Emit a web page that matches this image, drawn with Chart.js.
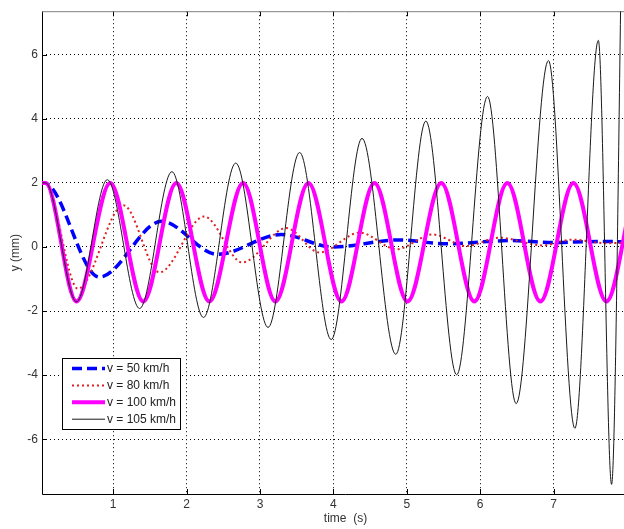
<!DOCTYPE html>
<html>
<head>
<meta charset="utf-8">
<script src="https://cdn.jsdelivr.net/npm/chart.js@4.4.1/dist/chart.umd.min.js"></script>
<style>
    html, body { margin: 0; padding: 0; background: #fff; overflow: hidden; }
    #wrap { position: relative; width: 652px; height: 529px; }
</style>
</head>
<body>
<div id="wrap"><canvas id="grafico-resposta"></canvas></div>
<script>
// Valores (patamar inicial, picos e vales de cada curva)
const t50 = [0, 0.06, 0.81, 1.66, 2.42, 3.29, 3.99, 4.9, 5.55, 6.4, 7.0, 7.6, 8.4]
const y50 = [2.0, 2.0, -0.94, 0.8, -0.23, 0.39, 0.0, 0.22, 0.1, 0.2, 0.14, 0.17, 0.15]

const t80 = [0, 0.07, 0.52, 1.14, 1.63, 2.24, 2.76, 3.36, 3.81, 4.36, 4.86, 5.35, 5.81, 6.26, 6.85, 7.26, 7.7, 8.4]
const y80 = [2.0, 2.0, -1.3, 1.3, -0.79, 0.95, -0.48, 0.59, -0.17, 0.45, -0.07, 0.39, 0.03, 0.29, 0.05, 0.23, 0.12, 0.17]

const t100 = [0, 0.08, 0.5, 0.96, 1.41, 1.86, 2.31, 2.77, 3.21, 3.66, 4.11, 4.56, 5.01, 5.47, 5.92, 6.37, 6.82, 7.27, 7.72, 8.17, 8.62]
const y100 = [2.0, 2.0, -1.7, 2.0, -1.7, 2.0, -1.7, 2.0, -1.7, 2.0, -1.7, 2.0, -1.7, 2.0, -1.7, 2.0, -1.7, 2.0, -1.7, 2.0, -1.7]

const t105 = [0, 0.08, 0.5, 0.92, 1.36, 1.8, 2.23, 2.67, 3.11, 3.54, 3.97, 4.39, 4.85, 5.26, 5.68, 6.1, 6.49, 6.93, 7.29, 7.61, 7.79, 7.95]
const y105 = [2.0, 2.0, -1.71, 2.1, -1.92, 2.35, -2.2, 2.62, -2.51, 2.95, -2.89, 3.39, -3.35, 3.93, -3.99, 4.7, -4.89, 5.82, -5.66, 6.45, -7.41, 13]

const ticksX = [1, 2, 3, 4, 5, 6, 7, 8]
const ticksY = [-6, -4, -2, 0, 2, 4, 6]
const legendas = ["v = 50 km/h", "v = 80 km/h", "v = 100 km/h", "v = 105 km/h"]

const fonte = "'Liberation Sans', Arial, sans-serif"

function pontos(t, y) {
    return t.map((x, i) => ({ x: x, y: y[i] }))
}

// Moldura, marcas de escala e legenda no estilo do MATLAB
const moldura = {
    id: "moldura",
    beforeDatasetsDraw(chart) {
        const { ctx, chartArea: a, scales: { x, y } } = chart
        ctx.save()
        ctx.lineWidth = 1
        ctx.strokeStyle = "#000"
        ctx.beginPath()
        ticksX.forEach(v => {
            const px = Math.round(x.getPixelForValue(v)) + 0.5
            ctx.moveTo(px, a.bottom)
            ctx.lineTo(px, a.bottom - 5)
            ctx.moveTo(px, a.top)
            ctx.lineTo(px, a.top + 5)
        })
        ticksY.forEach(v => {
            const py = Math.round(y.getPixelForValue(v)) + 0.5
            ctx.moveTo(a.left, py)
            ctx.lineTo(a.left + 5, py)
        })
        ctx.stroke()

        ctx.beginPath()
        ctx.moveTo(a.left + 0.5, a.top)
        ctx.lineTo(a.left + 0.5, a.bottom + 0.5)
        ctx.lineTo(a.right, a.bottom + 0.5)
        ctx.stroke()

        ctx.strokeStyle = "#808080"
        ctx.beginPath()
        ctx.moveTo(a.left, a.top + 0.5)
        ctx.lineTo(a.right, a.top + 0.5)
        ctx.stroke()
        ctx.restore()
    },
    afterDatasetsDraw(chart) {
        const { ctx, chartArea: a } = chart
        const x0 = a.left + 20
        const y0 = a.bottom - 136
        ctx.save()
        ctx.fillStyle = "#fff"
        ctx.fillRect(x0, y0, 118, 71)
        ctx.strokeStyle = "#000"
        ctx.lineWidth = 1
        ctx.strokeRect(x0 + 0.5, y0 + 0.5, 118, 71)

        chart.data.datasets.forEach((ds, i) => {
            const ly = y0 + 10.5 + i * 16.9
            ctx.strokeStyle = ds.borderColor
            ctx.lineWidth = ds.borderWidth
            ctx.setLineDash(ds.borderDash || [])
            ctx.beginPath()
            ctx.moveTo(x0 + 10, ly)
            ctx.lineTo(x0 + 43, ly)
            ctx.stroke()
            ctx.setLineDash([])
            ctx.fillStyle = "#222"
            ctx.font = "12px " + fonte
            ctx.textAlign = "left"
            ctx.textBaseline = "middle"
            ctx.fillText(legendas[i], x0 + 45, ly)
        })
        ctx.restore()
    }
}

let myChartResposta = new Chart(
    document.getElementById("grafico-resposta"),
    {
        type: "line",
        data: {
            datasets: [
                {
                    label: legendas[0],
                    data: pontos(t50, y50),
                    borderColor: "#0000ff",
                    borderWidth: 3.5,
                    borderDash: [10, 5],
                    order: 3
                },
                {
                    label: legendas[1],
                    data: pontos(t80, y80),
                    borderColor: "#e02020",
                    borderWidth: 2,
                    borderDash: [2, 3],
                    order: 2
                },
                {
                    label: legendas[2],
                    data: pontos(t100, y100),
                    borderColor: "#ff00ff",
                    borderWidth: 4,
                    order: 1
                },
                {
                    label: legendas[3],
                    data: pontos(t105, y105),
                    borderColor: "#1a1a1a",
                    borderWidth: 1,
                    order: 0
                }
            ]
        },
        options: {
            responsive: true,
            maintainAspectRatio: false,
            animation: false,
            layout: { padding: { top: 5, right: 3, left: 0, bottom: 0 } },
            elements: {
                point: { radius: 0 },
                line: { cubicInterpolationMode: "monotone", fill: false }
            },
            plugins: {
                legend: { display: false },
                tooltip: { enabled: false }
            },
            scales: {
                x: {
                    type: "linear",
                    min: 0.03,
                    max: 8.3,
                    afterBuildTicks: s => { s.ticks = ticksX.map(v => ({ value: v })) },
                    afterFit: s => { s.height = 35 },
                    grid: { color: "#000", lineWidth: 1, drawTicks: false },
                    border: { display: false, dash: [1, 3] },
                    ticks: { color: "#333", font: { size: 12, family: fonte }, padding: 3, maxRotation: 0, autoSkip: false },
                    title: { display: true, text: "time  (s)", color: "#333", font: { size: 12, family: fonte }, padding: { top: 0, bottom: 3 } }
                },
                y: {
                    min: -7.71,
                    max: 7.36,
                    afterBuildTicks: s => { s.ticks = ticksY.map(v => ({ value: v })) },
                    afterFit: s => { s.width = 42 },
                    grid: { color: "#000", lineWidth: 1, drawTicks: false },
                    border: { display: false, dash: [1, 3] },
                    ticks: { color: "#333", font: { size: 12, family: fonte }, padding: 4 },
                    title: { display: true, text: "y (mm)", color: "#333", font: { size: 12, family: fonte }, padding: { top: 8, bottom: 0 } }
                }
            }
        },
        plugins: [moldura]
    }
);
</script>
</body>
</html>
